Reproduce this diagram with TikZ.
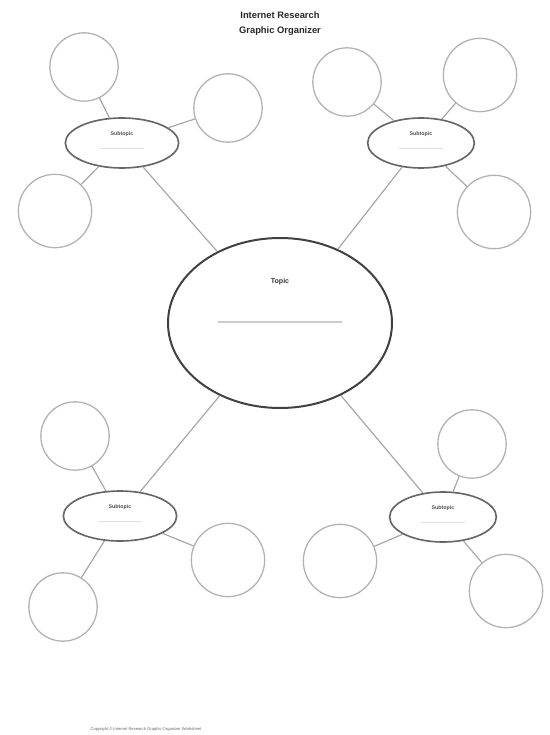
\documentclass[tikz,border=0pt]{standalone}
\usepackage{fontspec}
\setmainfont{Liberation Sans}
\usetikzlibrary{shapes}
\usepackage{xcolor}

\begin{document}
\begin{tikzpicture}[x=0.03cm,y=-0.03cm]
\tikzstyle{every path}=[thin]

\tikzstyle{topic}=[ellipse,draw=black!75,line width=1.7pt,minimum width=6.72cm,minimum height=5.1cm,inner sep=0pt]
\tikzstyle{subtopic}=[ellipse,draw=black!60,line width=1.4pt,minimum width=3.4cm,minimum height=1.5cm,inner sep=0pt]
\tikzstyle{detail}=[circle,draw=black!30,line width=1.1pt,minimum size=2.05cm,inner sep=0pt]
\tikzstyle{link}=[draw=black!35,line width=1pt]
\tikzstyle{blank}=[draw=black!20,line width=1.5pt]
\tikzstyle{faint}=[draw=black!12,line width=0.8pt]
\tikzstyle{label}=[text=black!70,font=\fontsize{4.5}{5}\selectfont\bfseries]

\useasboundingbox (0,0) rectangle (549,735);

% title
\node[font=\fontsize{8}{9}\selectfont\bfseries,text=black!85] (title1) at (280,15) {Internet Research};
\node[font=\fontsize{8}{9}\selectfont\bfseries,text=black!85] (title2) at (280,31) {Graphic Organizer};

% topic
\node[topic] (topic) at (280,323) {};
\node[font=\fontsize{6}{7}\selectfont\bfseries,text=black!80] (topiclab) at (280,282) {Topic};
\coordinate (tl) at (218,322);
\coordinate (tr) at (342,322);
\draw[blank] (tl) -- (tr);

% subtopics
\node[subtopic] (sub1) at (122,143) {};
\node[subtopic,minimum width=3.2cm] (sub2) at (421,143) {};
\node[subtopic] (sub3) at (120,516) {};
\node[subtopic,minimum width=3.2cm] (sub4) at (443,517) {};

\node[label] (lab1) at (122,134) {Subtopic};
\node[label] (lab2) at (421,134) {Subtopic};
\node[label] (lab3) at (120,507) {Subtopic};
\node[label] (lab4) at (443,508) {Subtopic};

\draw[faint] (lab1.south) ++(-22,8) -- ++(44,0);
\draw[faint] (lab2.south) ++(-22,8) -- ++(44,0);
\draw[faint] (lab3.south) ++(-22,8) -- ++(44,0);
\draw[faint] (lab4.south) ++(-22,8) -- ++(44,0);

% details
\node[detail] (d1) at (84,67) {};
\node[detail] (d2) at (228,108) {};
\node[detail,minimum size=2.2cm] (d3) at (55,211) {};
\node[detail] (d4) at (347,82) {};
\node[detail,minimum size=2.2cm] (d5) at (480,75) {};
\node[detail,minimum size=2.2cm] (d6) at (494,212) {};
\node[detail] (d7) at (75,436) {};
\node[detail,minimum size=2.2cm] (d8) at (228,560) {};
\node[detail] (d9) at (63,607) {};
\node[detail] (d10) at (472,444) {};
\node[detail,minimum size=2.2cm] (d11) at (340,561) {};
\node[detail,minimum size=2.2cm] (d12) at (506,591) {};

\node[font=\fontsize{3.5}{4}\selectfont,text=black!60] (foot) at (146,729) {Copyright \textcopyright\ Internet Research Graphic Organizer Worksheet};

\draw[link] (sub1) -- (topic);
\draw[link] (sub2) -- (topic);
\draw[link] (sub3) -- (topic);
\draw[link] (sub4) -- (topic);

\draw[link] (d1) -- (sub1);
\draw[link] (d2) -- (sub1);
\draw[link] (d3) -- (sub1);
\draw[link] (d4) -- (sub2);
\draw[link] (d5) -- (sub2);
\draw[link] (d6) -- (sub2);
\draw[link] (d7) -- (sub3);
\draw[link] (d8) -- (sub3);
\draw[link] (d9) -- (sub3);
\draw[link] (d10) -- (sub4);
\draw[link] (d11) -- (sub4);
\draw[link] (d12) -- (sub4);
\end{tikzpicture}
\end{document}
